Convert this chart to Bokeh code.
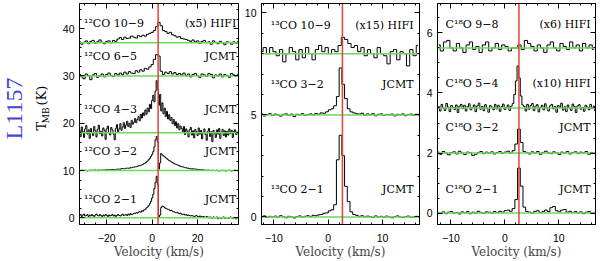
import numpy as np
from bokeh.plotting import figure
from bokeh.layouts import row
from bokeh.models import FixedTicker, LinearAxis, CustomJSTickFormatter, Label
from bokeh.embed import file_html
from bokeh.resources import INLINE

# ---------------- data ----------------
V_SYS = 2.6  # systemic velocity (red line), km/s

# Panel 1: 12CO, offsets (K)
co12_names = ["\u00b9\u00b2CO 10\u22129", "\u00b9\u00b2CO 6\u22125", "\u00b9\u00b2CO 4\u22123",
              "\u00b9\u00b2CO 3\u22122", "\u00b9\u00b2CO 2\u22121"]
co12_tags = ["(x5) HIFI", "JCMT", "JCMT", "JCMT", "JCMT"]
co12_offsets = [37, 30, 18, 10, 0]
co12_v0 = [-32, -32, -32, -32, -32]
co12_dv = [1.0, 1.0, 0.5, 0.5, 0.5]

co12_10_9 = [0.2, -0.3, 0.1, 0.4, -0.2, 0.3, 0.5, -0.1, 0.2, 0.6, 0.1, -0.2, 0.3, 0.4, 0.0, 0.5, 0.3,
             0.8, 1.1, 0.7, 1.2, 0.9, 1.0, 1.4, 1.2, 1.0, 1.5, 1.3, 1.6, 1.4, 1.8, 2.0,
             2.2, 2.6, 3.4, 4.3, 3.6, 2.6,
             2.4, 2.0, 2.2, 1.7, 1.5, 1.2, 1.3, 0.9, 0.8, 0.7,
             0.5, 0.3, 0.6, 0.2, 0.4, -0.1, 0.3, 0.5, 0.0, 0.2, -0.3, 0.4, 0.1, -0.2, 0.3, 0.0,
             -0.4, 0.2, 0.1, -0.3, 0.2, -0.1, 0.3]
co12_6_5 = [0.3, -0.2, -0.6, 0.4, 0.1, -0.8, 0.2, 0.5, -0.3, 0.0, 0.4, -0.2, 0.3, 0.6, 0.1, -0.1, 0.5,
            0.2, 0.6, 0.3, 0.8, 0.4, 0.9, 0.6, 0.5, 1.1, 0.8, 1.3, 1.0, 1.6, 1.4, 1.9,
            2.4, 3.5, 4.5, 4.2, 1.0, 0.3,
            0.8, 0.5, 0.9, 0.4, 0.7, 0.3, 0.5, 0.2, 0.6, 0.1,
            0.4, -0.2, 0.3, 0.5, 0.0, -0.3, 0.4, 0.2, -0.1, 0.5, 0.3, -0.4, 0.2, 0.0, 0.4, -0.2,
            0.3, 0.1, -0.3, 0.5, 0.2, -0.1, 0.3]
co12_4_3 = [0.5, -0.8, 1.2, 0.2, -1.0, 0.8, 1.5, -0.3, 0.6, -1.2,
            0.9, 0.1, -0.6, 1.3, 0.4, -0.9, 0.7, 1.6, -0.2, 0.3,
            -0.7, 1.0, 0.5, -1.4, 0.8, 1.4, 0.0, -0.5, 1.1, 0.6,
            -0.3, -1.5, 0.9, 1.7, 0.2, 0.8, 1.9, 0.5, 1.2, 2.1,
            0.9, 1.6, 2.4, 1.3, 2.0, 1.1, 2.6, 1.8, 2.2, 3.0,
            2.1, 2.8, 3.4, 2.5, 3.9, 3.1, 4.2, 3.6, 4.8, 3.9,
            5.2, 4.4, 6.0, 5.1, 6.8, 7.9, 6.5, 8.8, 11.0, 9.2,
            5.8, 8.1, 4.6, 6.3, 4.0, 5.2, 3.4, 4.5, 2.9, 3.8,
            2.6, 3.2, 1.9, 2.8, 1.5, 2.3, 1.0, 1.9, 0.6, 1.4,
            0.9, 0.2, 1.3, -0.4, 0.8, 0.3, -0.9, 0.6, 1.1, -0.5,
            0.4, -1.1, 0.7, 0.2, -0.6, 1.0, -0.3, 0.5, -1.3, 0.1,
            0.8, -0.4, -1.6, 0.3, 0.9, -0.8, 0.2, -1.9, 0.5, -0.2,
            -1.0, 0.6, -0.3, 0.9, -1.2, 0.1, 0.7, -0.6, 0.4, -0.9,
            0.3, -0.5, 0.8, -0.2, 0.5, -1.0, 0.2, 0.6, -0.4, 0.1, -0.3]
co12_3_2 = [0.1, 0.0, 0.1, 0.0, 0.0, 0.1, 0.0, -0.1, 0.0, 0.1,
            0.0, 0.1, 0.0, 0.1, 0.1, 0.0, 0.1, 0.1, 0.1, 0.1,
            0.1, 0.1, 0.1, 0.1, 0.2, 0.1, 0.2, 0.2, 0.2, 0.2,
            0.2, 0.2, 0.2, 0.3, 0.3, 0.3, 0.3, 0.4, 0.4, 0.4,
            0.4, 0.5, 0.5, 0.5, 0.5, 0.6, 0.6, 0.7, 0.7, 0.8,
            0.8, 0.9, 1.0, 1.0, 1.1, 1.2, 1.3, 1.5, 1.6, 1.8,
            2.0, 2.3, 2.6, 3.0, 3.4, 4.0, 5.0, 6.5, 7.2, 6.0,
            0.3, 1.6, 3.6, 3.3, 3.1, 2.9, 2.7, 2.5, 2.3, 2.1,
            2.0, 1.8, 1.7, 1.5, 1.4, 1.3, 1.2, 1.1, 1.0, 0.9,
            0.8, 0.8, 0.7, 0.6, 0.6, 0.5, 0.5, 0.4, 0.4, 0.3,
            0.4, 0.3, 0.3, 0.3, 0.2, 0.2, 0.2, 0.1, 0.2, 0.1,
            0.1, 0.1, 0.0, 0.1, 0.1, 0.0, 0.0, 0.1, 0.0, 0.0,
            0.0, 0.1, 0.0, -0.1, 0.0, 0.0, 0.1, 0.0, 0.0, -0.1,
            0.0, 0.0, 0.1, 0.0, -0.1, 0.0, 0.0, 0.1, 0.0, 0.0, 0.0]
co12_2_1 = [0.5, 0.7, 0.3, 0.6, 0.8, 0.4, 0.5, 0.7, 0.3, 0.6,
            0.4, 0.7, 0.5, 0.3, 0.6, 0.8, 0.5, 0.4, 0.7, 0.5,
            0.3, 0.6, 0.4, 0.7, 0.5, 0.3, 0.6, 0.4, 0.5, 0.7,
            0.4, 0.6, 0.3, 0.5, 0.7, 0.5, 0.4, 0.6, 0.8, 0.5,
            0.6, 0.7, 0.5, 0.8, 0.6, 0.9, 0.7, 0.8, 1.0, 0.9,
            1.1, 1.0, 1.2, 1.3, 1.2, 1.5, 1.4, 1.7, 1.8, 2.1,
            2.3, 2.6, 3.0, 3.5, 4.2, 5.0, 6.2, 7.5, 8.8, 7.0,
            0.2, 0.6, 2.2, 2.5, 2.4, 2.2, 2.0, 1.9, 1.8, 1.7,
            1.5, 1.6, 1.4, 1.3, 1.2, 1.1, 1.2, 1.0, 0.9, 1.0,
            0.8, 0.7, 0.8, 0.6, 0.7, 0.5, 0.6, 0.5, 0.4, 0.5,
            0.4, 0.3, 0.4, 0.5, 0.3, 0.2, 0.4, 0.3, 0.2, 0.3,
            0.2, 0.1, 0.3, 0.2, 0.0, 0.2, 0.1, -0.1, 0.2, 0.1,
            0.0, 0.2, -0.2, 0.1, 0.0, -0.1, 0.1, 0.2, -0.1, 0.0,
            0.1, -0.1, 0.0, 0.2, 0.0, -0.1, 0.1, 0.0, -0.2, 0.1, 0.0]
co12_spectra = [co12_10_9, co12_6_5, co12_4_3, co12_3_2, co12_2_1]

# Panel 2: 13CO
co13_names = ["\u00b9\u00b3CO 10\u22129", "\u00b9\u00b3CO 3\u22122", "\u00b9\u00b3CO 2\u22121"]
co13_tags = ["(x15) HIFI", "JCMT", "JCMT"]
co13_offsets = [8, 5, 0]
co13_v0 = [-12.3, -12.25, -12.25]
co13_dv = [0.6, 0.5, 0.5]
co13_10_9 = [0.1, 0.3, 0.0, 0.3, 0.1, -0.1, 0.2, -0.4, 0.0, 0.3,
             0.1, -0.3, 0.2, -0.2, 0.3, 0.0, -0.3, 0.2, 0.4, 0.1,
             0.3, 0.0, 0.2, 0.1, 0.4, 0.8, 0.7, 0.5, 0.3, 0.4,
             0.1, 0.3, -0.1, 0.2, 0.0, -0.2, 0.3, 0.0, -0.1, -0.5,
             0.1, 0.2, -0.3, 0.1, 0.0, -0.6, 0.2, -0.1, 0.4]
co13_3_2 = [0.05, -0.05, 0.02, 0.06, -0.03, 0.04, 0.0, -0.06, 0.03, 0.05,
            -0.02, 0.04, -0.08, 0.03, 0.0, 0.06, -0.03, 0.02, 0.05, 0.0,
            0.07, 0.03, 0.1, 0.08, 0.15, 0.25, 0.3, 0.45, 0.9, 2.3,
            1.5, 0.8, 0.3, 0.15, 0.1, 0.06, 0.04, 0.08, -0.02, 0.05,
            0.0, 0.06, -0.04, 0.03, 0.05, -0.03, 0.02, 0.0, 0.04, -0.05,
            0.03, 0.0, 0.05, -0.04, 0.02, 0.04, -0.02, 0.03, 0.0]
co13_2_1 = [0.02, 0.05, -0.03, 0.03, 0.0, 0.04, -0.02, 0.06, 0.01, -0.04,
            0.03, 0.0, -0.05, 0.02, 0.05, 0.0, 0.03, 0.06, 0.02, 0.08,
            0.06, 0.1, 0.12, 0.18, 0.2, 0.3, 0.35, 0.6, 2.8, 4.0,
            3.0, 1.5, 0.75, 0.25, 0.12, 0.08, 0.03, 0.06, 0.0, 0.04,
            0.02, -0.03, 0.05, 0.0, 0.03, -0.02, 0.04, 0.0, -0.04, 0.02,
            0.05, 0.0, -0.03, 0.02, 0.04, -0.02, 0.0, 0.03, 0.01]
co13_spectra = [co13_10_9, co13_3_2, co13_2_1]

# Panel 3: C18O
c18o_names = ["C\u00b9\u2078O 9\u22128", "C\u00b9\u2078O 5\u22124", "C\u00b9\u2078O 3\u22122", "C\u00b9\u2078O 2\u22121"]
c18o_tags = ["(x6) HIFI", "(x10) HIFI", "JCMT", "JCMT"]
c18o_offsets = [5.5, 3.5, 2, 0]
c18o_v0 = [-12.3, -12.3, -12.4, -12.4]
c18o_dv = [0.6, 0.3, 0.5, 0.5]
c18o_9_8 = [0.1, -0.1, 0.2, 0.25, 0.0, -0.1, 0.15, 0.0, -0.15, 0.1,
            0.2, -0.05, 0.05, -0.15, 0.1, 0.2, -0.1, 0.0, 0.15, -0.05,
            0.1, 0.05, -0.1, 0.0, 0.0, 0.1, -0.05, 0.25, 0.15, 0.05,
            -0.1, 0.1, 0.0, -0.15, 0.1, 0.2, 0.0, -0.1, 0.15, 0.05,
            -0.05, 0.2, 0.0, 0.1, -0.1, 0.15, 0.0, 0.1, -0.05]
c18o_5_4 = [0.05, -0.1, 0.12, 0.0, -0.08, 0.15, 0.03, -0.12, 0.08, 0.02,
            -0.05, 0.1, -0.15, 0.06, 0.12, -0.02, 0.09, -0.1, 0.04, 0.14,
            -0.06, 0.02, 0.1, -0.12, 0.07, 0.16, -0.04, 0.05, -0.09, 0.11,
            0.0, -0.14, 0.08, 0.03, -0.06, 0.12, -0.03, 0.09, -0.11, 0.04,
            0.13, -0.05, 0.02, 0.1, -0.08, 0.06, 0.15, 0.45, 0.9, 1.4,
            1.0, 0.4, 0.1, 0.05, -0.1, 0.12, -0.04, 0.08, 0.15, -0.09,
            0.06, 0.11, -0.13, 0.02, 0.09, -0.06, 0.14, 0.0, -0.1, 0.07,
            0.12, -0.03, 0.05, -0.14, 0.08, 0.02, 0.16, -0.07, 0.04, -0.12,
            0.1, 0.0, -0.08, 0.13, 0.05, -0.15, 0.07, 0.11, -0.04, 0.02,
            -0.11, 0.09, 0.03, -0.06, 0.12, -0.02, 0.06, -0.09]
c18o_3_2 = [0.03, -0.04, 0.05, 0.0, -0.06, 0.02, 0.04, -0.03, 0.06, 0.0,
            -0.05, 0.03, 0.01, -0.08, -0.04, 0.02, 0.05, -0.02, 0.03, 0.0,
            0.04, -0.03, 0.02, 0.05, -0.01, 0.03, 0.06, 0.0, 0.08, 0.3,
            0.8, 0.35, 0.05, 0.02, -0.03, 0.04, 0.0, 0.05, -0.04, 0.02,
            0.06, 0.0, -0.02, 0.04, 0.01, -0.05, 0.03, 0.0, 0.05, -0.03,
            0.02, 0.04, -0.02, 0.03, 0.0, 0.05, -0.04, 0.02, 0.0]
c18o_2_1 = [0.02, 0.0, 0.04, -0.02, 0.03, 0.05, 0.0, 0.02, -0.03, 0.04,
            0.01, 0.05, -0.02, 0.03, 0.0, 0.06, 0.02, -0.01, 0.04, 0.03,
            0.0, 0.05, 0.02, 0.06, 0.03, 0.08, 0.1, 0.06, 0.15, 0.45,
            1.5, 0.9, 0.2, 0.05, 0.03, 0.0, 0.06, 0.08, 0.02, 0.05,
            0.1, 0.05, 0.18, 0.22, 0.08, 0.04, 0.1, 0.12, 0.03, 0.06,
            0.02, 0.05, 0.0, 0.04, -0.02, 0.03, 0.05, 0.0, 0.02]
c18o_spectra = [c18o_9_8, c18o_5_4, c18o_3_2, c18o_2_1]

# tick values
p1_xticks = [-20, 0, 20]
p1_yticks = [0, 10, 20, 30, 40]
p2_xticks = [-10, 0, 10]
p2_yticks = [0, 5, 10]
p3_xticks = [-10, 0, 10]
p3_yticks = [0, 2, 4, 6]

# ---------------- style / layout ----------------
H = 261
SERIF = "DejaVu Serif"
SANS = "Liberation Sans"
GREEN = "#66dd55"
RED = "#e8403a"
TICK_FS = "10.5px"
LAB_FS = "11px"


def make_panel(width, mb_left, mb_right, xr, yr, xticks, xminor, yticks, yminor,
               spectra, v0s, dvs, offsets, names, tags, name_x, tag_x, label_y):
    p = figure(width=width, height=H, x_range=xr, y_range=yr,
               output_backend="svg", toolbar_location=None,
               min_border_left=mb_left, min_border_right=mb_right,
               min_border_top=3, min_border_bottom=36)
    p.grid.visible = False
    p.outline_line_color = "black"
    p.outline_line_width = 1
    p.background_fill_color = "white"
    p.border_fill_color = "white"

    xt = FixedTicker(ticks=xticks, minor_ticks=xminor)
    yt = FixedTicker(ticks=yticks, minor_ticks=yminor)
    for ax in p.xaxis:
        ax.ticker = xt
        ax.axis_label = "Velocity (km/s)"
        ax.axis_label_text_font = SERIF
        ax.axis_label_text_font_style = "normal"
        ax.axis_label_text_font_size = "12px"
        ax.axis_label_standoff = 0
        ax.major_label_standoff = 9
    for ax in p.yaxis:
        ax.ticker = yt
        ax.major_label_standoff = 5
    for ax in p.axis:
        ax.major_label_text_font = SANS
        ax.major_label_text_font_size = TICK_FS
        ax.major_label_text_color = "black"
        ax.major_tick_in = 5
        ax.major_tick_out = 0
        ax.minor_tick_in = 2
        ax.minor_tick_out = 0
        ax.axis_line_color = "black"
        ax.major_tick_line_color = "black"
        ax.minor_tick_line_color = "black"

    blank = CustomJSTickFormatter(code="return ''")
    for loc, tk in (("above", xt), ("right", yt)):
        a = LinearAxis(ticker=tk, formatter=blank, major_label_standoff=0,
                       major_label_text_font_size="0px",
                       major_tick_in=5, major_tick_out=0,
                       minor_tick_in=2, minor_tick_out=0)
        p.add_layout(a, loc)

    for vals, v0, dv, off in zip(spectra, v0s, dvs, offsets):
        v = v0 + dv * np.arange(len(vals))
        p.step(v, np.asarray(vals) + off, mode="center", line_color="black", line_width=1)
    for off in offsets:
        p.line([xr[0], xr[1]], [off, off], line_color=GREEN, line_width=1.5)
    p.line([V_SYS, V_SYS], [yr[0], yr[1]], line_color=RED, line_width=1.5)

    for nm, tg, ly in zip(names, tags, label_y):
        p.add_layout(Label(x=name_x, y=ly, text=nm, text_font=SERIF, text_font_size=LAB_FS,
                           text_align="left", text_baseline="middle", text_color="black"))
        p.add_layout(Label(x=tag_x, y=ly, text=tg, text_font=SERIF, text_font_size=LAB_FS,
                           text_align="right", text_baseline="middle", text_color="black"))
    return p


p1 = make_panel(182, 18, 3, (-32, 38), (-1.4, 45.3),
                p1_xticks, [-30, -25, -20, -15, -10, -5, 0, 5, 10, 15, 20, 25, 30, 35],
                p1_yticks, list(range(0, 46, 2)),
                co12_spectra, co12_v0, co12_dv, co12_offsets, co12_names, co12_tags,
                -30, 37, [41.1, 34.1, 22.8, 14.0, 3.9])
p2 = make_panel(181, 18, 3, (-12.3, 16.8), (-0.37, 10.46),
                p2_xticks, list(range(-12, 17, 2)),
                p2_yticks, list(range(0, 11, 1)),
                co13_spectra, co13_v0, co13_dv, co13_offsets, co13_names, co13_tags,
                -10.6, 15.7, [9.39, 6.5, 1.33])
p3 = make_panel(176, 15, 3, (-12.5, 16.8), (-0.38, 6.98),
                p3_xticks, list(range(-12, 17, 2)),
                p3_yticks, [x * 0.5 for x in range(0, 14)],
                c18o_spectra, c18o_v0, c18o_dv, c18o_offsets, c18o_names, c18o_tags,
                -11.0, 15.9, [6.28, 4.33, 2.85, 0.77])

# label column: source name and y-axis title
p0 = figure(width=59, height=H, x_range=(0, 59), y_range=(0, H),
            output_backend="svg", toolbar_location=None,
            min_border_left=0, min_border_right=0, min_border_top=0, min_border_bottom=0)
p0.axis.visible = False
p0.grid.visible = False
p0.outline_line_color = None
ROT = np.pi / 2
p0.add_layout(Label(x=13, y=137, text="L1157", angle=ROT, text_font="Liberation Serif",
                    text_font_size="24px", text_color="#4444dd",
                    text_align="center", text_baseline="middle"))
p0.add_layout(Label(x=41, y=111, text="T", angle=ROT, text_font=SERIF,
                    text_font_size="13px", text_color="black",
                    text_align="left", text_baseline="middle"))
p0.add_layout(Label(x=45, y=119.7, text="MB", angle=ROT, text_font=SERIF,
                    text_font_size="9px", text_color="black",
                    text_align="left", text_baseline="middle"))
p0.add_layout(Label(x=41, y=140.5, text="(K)", angle=ROT, text_font=SERIF,
                    text_font_size="13px", text_color="black",
                    text_align="left", text_baseline="middle"))

layout = row(p0, p1, p2, p3, spacing=0)
open("out.html", "w").write(file_html(layout, INLINE))
